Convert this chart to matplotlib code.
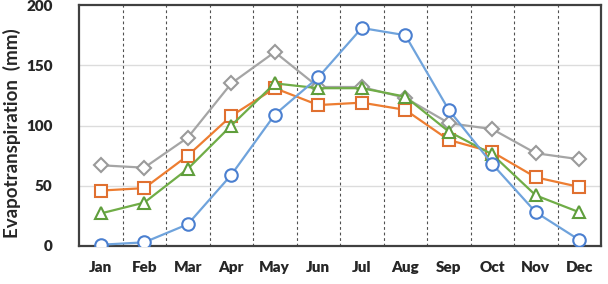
import matplotlib
matplotlib.use("Agg")
import matplotlib.pyplot as plt

months = ["Jan", "Feb", "Mar", "Apr", "May", "Jun",
          "Jul", "Aug", "Sep", "Oct", "Nov", "Dec"]
gray_vals = [67, 65, 90, 135, 161, 132, 132, 123, 102, 97, 77, 72]
orange_vals = [46, 48, 75, 108, 131, 117, 119, 113, 88, 78, 57, 49]
green_vals = [27, 36, 64, 100, 135, 131, 131, 124, 95, 76, 42, 28]
blue_vals = [1, 3, 18, 59, 109, 140, 181, 175, 113, 68, 28, 5]
y_ticks = [0, 50, 100, 150, 200]

FONT = ["Lato", "DejaVu Sans"]
INK = "#262626"

fig = plt.figure(figsize=(6.08, 2.84), dpi=100)
ax = fig.add_axes([0.130, 0.134, 0.8585, 0.848])

x = list(range(len(months)))
series = [
    (gray_vals, "#a5a5a5", "#9a9a9a", "D", 7.5),
    (orange_vals, "#ed7d31", "#e07030", "s", 9),
    (green_vals, "#70ad47", "#5f9e3c", "^", 9),
    (blue_vals, "#6fa3dc", "#4a7fd0", "o", 9),
]
for vals, lc, mc, mk, ms in series:
    ax.plot(x, vals, color=lc, linewidth=1.6, marker=mk, markersize=ms,
            markerfacecolor="white", markeredgecolor=mc, markeredgewidth=1.5,
            zorder=3)

ax.set_xlim(-0.5, len(months) - 0.5)
ax.set_ylim(0, 200)
ax.set_xticks(x)
ax.set_xticklabels(months)
ax.set_yticks(y_ticks)

for b in range(1, len(months)):
    ax.axvline(b - 0.5, color="#505050", linestyle=(0, (2.5, 2.5)), linewidth=0.8,
               zorder=1)
for yv in y_ticks[1:-1]:
    ax.axhline(yv, color="#dcdcdc", linewidth=1.0, zorder=0)

for s in ax.spines.values():
    s.set_color("#404040")
    s.set_linewidth(1.6)

ax.tick_params(length=0, labelcolor=INK)
for lab in ax.get_xticklabels() + ax.get_yticklabels():
    lab.set_fontfamily(FONT)
    lab.set_fontweight("heavy")
    lab.set_fontsize(11)
ax.tick_params(axis="x", pad=11)
ax.tick_params(axis="y", pad=19)

ax.set_ylabel("Evapotranspiration  (mm)", fontsize=13.5, fontweight="bold",
              family=FONT, color=INK)
ax.yaxis.set_label_coords(-0.112, 0.47)

fig.savefig("out.png", dpi=100, facecolor="white")
